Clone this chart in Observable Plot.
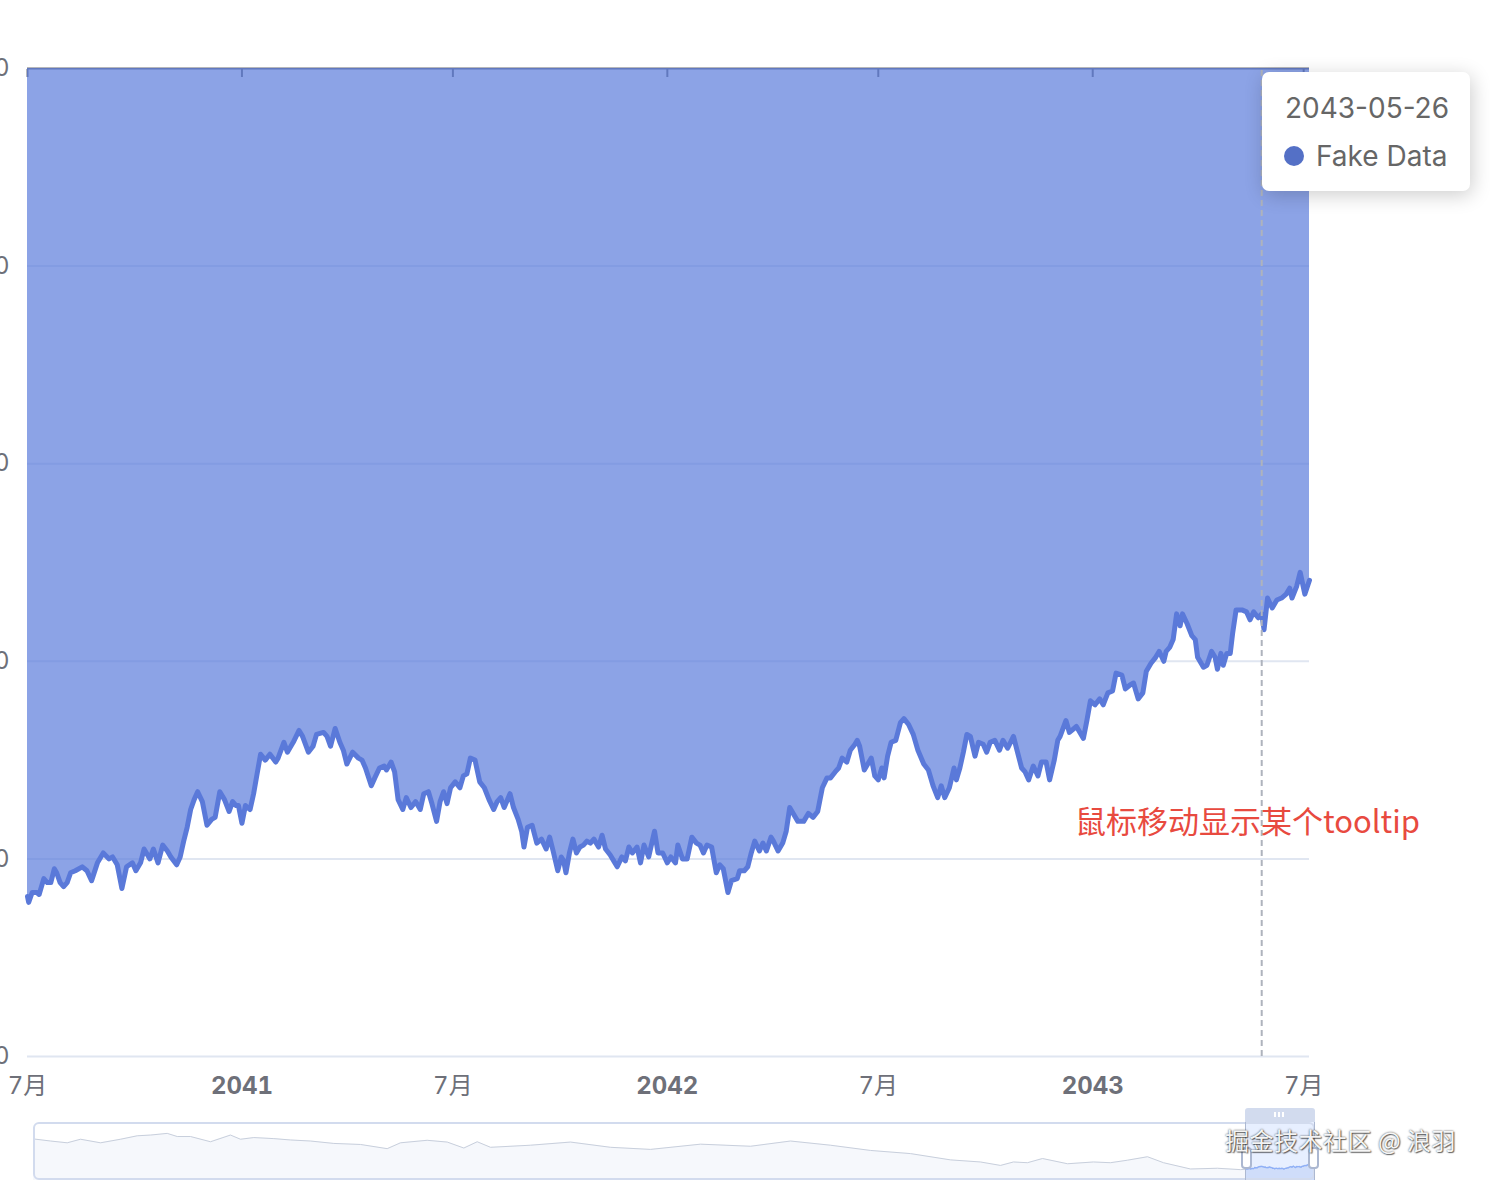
<!DOCTYPE html>
<html><head><meta charset="utf-8">
<script src="https://cdn.jsdelivr.net/npm/d3@7"></script>
<script src="https://cdn.jsdelivr.net/npm/@observablehq/plot@0.6"></script>
<style>
html,body{margin:0;padding:0;background:#fff;}
#wrap{position:relative;width:1490px;height:1186px;overflow:hidden;font-family:Inter,"Noto Sans CJK SC",sans-serif;}
#main,#mini{position:absolute;left:0;}
#main{top:0}
#mini{top:1100px}
.abs{position:absolute;box-sizing:border-box;pointer-events:none;}
#sliderBorder{left:33px;top:1122px;width:1282px;height:58px;border:2px solid #d2dbee;border-radius:6px;}
#moveBar{left:1245px;top:1108px;width:70px;height:14px;background:#d2dbee;border-radius:3px 3px 0 0;}
.grip{top:1112px;width:2px;height:5px;background:#fff;}
.hline{top:1122px;width:1px;height:58px;background:#ACB8D1;}
.handle{top:1147px;width:11px;height:22px;background:#fff;border:2px solid #ACB8D1;border-radius:4px;}
#tooltip{left:1262px;top:72px;width:208px;height:119px;background:#fff;border-radius:7px;box-shadow:2px 4px 20px rgba(0,0,0,0.2);}
#tipDate{left:23px;top:22px;font-size:28px;line-height:1;color:#666;white-space:nowrap;}
#tipDot{left:22px;top:74px;width:20px;height:20px;border-radius:50%;background:#5470c6;}
#tipName{left:54px;top:70px;font-size:28px;line-height:1;color:#666;white-space:nowrap;}
#note{left:1075px;top:804px;font-family:"Noto Sans CJK SC",sans-serif;font-size:31px;line-height:1;color:#e84a3f;white-space:nowrap;}
#wm{left:1225px;top:1128px;font-family:"Noto Sans CJK SC",sans-serif;font-size:24px;letter-spacing:0.5px;line-height:1;color:rgba(255,255,255,0.95);white-space:nowrap;text-shadow:0 0 2px rgba(0,0,0,0.75),1px 1px 1px rgba(0,0,0,0.5);}
</style></head><body>
<div id="wrap">
  <div id="main"></div>
  <div id="mini"></div>
  <div id="sliderBorder" class="abs"></div>
  <div id="moveBar" class="abs"></div>
  <div class="abs grip" style="left:1274px"></div>
  <div class="abs grip" style="left:1278px"></div>
  <div class="abs grip" style="left:1282px"></div>
  <div class="abs hline" style="left:1245px"></div>
  <div class="abs hline" style="left:1314px"></div>
  <div class="abs handle" style="left:1241px"></div>
  <div class="abs handle" style="left:1308px"></div>
  <div id="tooltip" class="abs">
    <div id="tipDate" class="abs"></div>
    <div id="tipDot" class="abs"></div>
    <div id="tipName" class="abs"></div>
  </div>
  <div id="note" class="abs">鼠标移动显示某个tooltip</div>
  <div id="wm" class="abs">掘金技术社区 @ 浪羽</div>
</div>
<script>
// ---- data ----
const startDate = "2040-07-01";
const endOffset = 1100;
const dayOffsets = [0,1,4,8,10,14,17,20,23,25,28,31,34,37,41,47,51,55,60,65,70,73,77,81,85,90,93,97,100,105,108,112,116,120,123,128,131,134,137,140,143,146,150,154,158,161,165,169,173,176,179,181,184,187,191,194,197,200,204,208,213,215,
220,223,228,233,236,241,245,248,254,257,260,264,268,271,274,279,284,287,290,295,298,302,306,308,312,315,318,322,325,329,333,337,340,344,347,351,354,357,360,363,367,371,374,377,380,384,388,392,396,400,403,406,409,414,417,421,424,426,429,433,437,441,445,448,
451,455,458,460,462,465,468,471,474,477,480,483,486,490,493,496,500,503,506,510,513,516,519,523,526,529,533,538,541,545,549,552,556,558,562,566,570,574,577,580,583,587,591,594,597,601,604,609,611,615,618,621,624,628,631,634,638,640,644,648,651,654,658,661,666,670,
674,678,682,686,689,693,696,699,703,706,710,712,714,718,721,724,727,730,733,735,738,741,745,749,752,756,760,764,769,773,777,781,784,787,791,795,797,800,803,806,809,813,816,820,823,826,830,834,837,841,846,849,853,856,859,863,867,870,874,877,881,884,
886,891,894,900,906,909,912,916,920,923,927,931,934,939,942,946,949,953,957,960,964,968,971,975,977,980,983,986,989,991,995,999,1002,1004,1009,1012,1016,1019,1021,1024,1026,1029,1032,1034,1037,1042,1046,1049,1052,1056,1059,1061,1064,1068,1072,1076,1080,1083,1085,1089,1092,1096,1100];
const values = [81,78,83,83,82,90,88,88,95,93,88,86,88,93,94,96,94,89,98,103,100,101,97,85,96,98,94,98,105,100,105,98,107,104,101,97,101,109,116,125,130,134,129,117,120,121,134,130,124,129,127,127,118,127,125,133,143,153,150,153,149,151,
159,154,159,165,162,154,157,163,164,162,157,166,159,155,148,154,151,150,146,137,141,146,147,145,149,144,130,125,131,126,129,125,133,134,128,119,129,134,128,136,139,136,142,143,151,150,139,136,130,125,129,131,126,133,126,120,114,106,116,117,108,110,105,111,
104,94,101,99,93,103,110,103,106,107,109,108,110,106,112,105,102,99,96,101,99,106,103,106,98,107,101,114,103,103,98,101,98,107,100,100,111,108,107,103,107,106,93,97,95,83,89,90,94,94,96,103,109,104,108,104,111,109,104,108,114,126,122,119,119,123,
121,124,136,141,141,144,146,151,149,155,158,160,157,145,148,151,142,140,146,141,152,159,160,169,171,168,163,155,148,145,137,131,137,131,136,146,140,146,154,163,162,152,159,158,154,159,160,155,160,156,162,155,146,144,140,147,142,149,149,140,150,160,
162,170,164,167,161,170,180,178,181,178,184,185,194,193,186,188,189,181,184,195,199,202,205,200,205,207,211,224,218,224,219,213,211,202,197,198,205,202,196,204,198,204,204,214,226,226,225,221,225,222,224,216,232,227,231,232,234,237,232,238,245,234,241];
const overviewOffsets = [-19041,-18773,-18511,-18302,-17988,-17674,-17411,-17202,-16940,-16783,-16574,-16260,-15946,-15789,-15580,-15265,-15003,-14689,-14323,-13903,-13484,-13275,-12856,-12541,-12280,-12070,-11861,-11233,-10604,-9976,-9347,-8562,-7776,-7148,-6520,-5891,-5263,-4634,-4163,-3849,-3645,-3425,-3189,-2796,-2388,-2121,-1854,-1540,-1288,-864,-440,-79];
const overviewValues = [950,890,839,941,839,941,1040,1061,1109,1019,1019,869,1061,941,989,959,920,890,821,791,671,839,911,860,689,869,710,770,860,710,650,800,740,890,770,620,530,350,290,191,290,269,389,239,290,269,341,440,269,89,110,71];
const xTickDates = ["2040-07-01","2041-01-01","2041-07-01","2042-01-01","2042-07-01","2043-01-01","2043-07-01"];
const yTicks = [0,100,200,300,400,500];
const seriesName = "Fake Data";
const tooltipDate = "2043-05-26";

// ---- build ----
const FONT = 'Inter, "Noto Sans CJK SC", sans-serif';
const parse = s => new Date(s + "T00:00:00Z");
const start = parse(startDate);
const toDate = d => d3.utcDay.offset(start, d);
const data = dayOffsets.map((d, i) => ({date: toDate(d), value: values[i]}));
const overview = overviewOffsets.map((d, i) => ({date: toDate(d), value: overviewValues[i]}));
const full = overview.concat(data);
const yMax = yTicks[yTicks.length - 1];
const tickDates = xTickDates.map(parse);
const yearTicks = tickDates.filter(d => d.getUTCMonth() === 0);
const monthTicks = tickDates.filter(d => d.getUTCMonth() !== 0);
const tipDate = parse(tooltipDate);

const main = Plot.plot({
  width: 1490, height: 1100,
  marginTop: 68, marginBottom: 44, marginLeft: 27, marginRight: 181,
  style: {fontFamily: FONT, fontSize: "24px", background: "transparent", color: "#6E7079"},
  x: {type: "utc", domain: [start, toDate(endOffset)]},
  y: {domain: [0, yMax]},
  marks: [
    Plot.ruleY(yTicks.slice(0, -1), {stroke: "#E0E6F1", strokeWidth: 2}),
    Plot.ruleY([yMax], {stroke: "#6E7079", strokeWidth: 2}),
    Plot.axisX(tickDates, {anchor: "top", tickSize: 8, dy: 8, tickFormat: () => "", strokeWidth: 2, label: null}),
    Plot.areaY(data, {x: "date", y1: "value", y2: yMax, fill: "#5b7cdc", fillOpacity: 0.7}),
    Plot.lineY(data, {x: "date", y: "value", stroke: "#5a79d9", strokeWidth: 5, strokeLinejoin: "round"}),
    Plot.ruleX([tipDate], {y1: 0, y2: yMax, stroke: "#AEB3BD", strokeWidth: 2, strokeDasharray: "6,4"}),
    Plot.axisY(yTicks, {anchor: "left", tickSize: 0, tickPadding: 18, fontSize: 24, label: null}),
    Plot.axisX(yearTicks, {anchor: "bottom", tickSize: 0, tickPadding: 20, fontSize: 24, fontWeight: "bold",
      tickFormat: d => String(d.getUTCFullYear()), label: null}),
    Plot.axisX(monthTicks, {anchor: "bottom", tickSize: 0, tickPadding: 20, fontSize: 24,
      tickFormat: d => (d.getUTCMonth() + 1) + "月", label: null})
  ]
});
document.getElementById("main").appendChild(main);

const [lo, hi] = d3.extent(full, d => d.value);
const pad = (hi - lo) * 0.3;
const yLo = lo - pad, yHi = hi + pad;
const mini = Plot.plot({
  width: 1490, height: 86,
  marginTop: 22, marginBottom: 6, marginLeft: 33, marginRight: 175,
  style: {background: "transparent"},
  x: {type: "utc", domain: [overview[0].date, toDate(endOffset)], axis: null},
  y: {domain: [yLo, yHi], axis: null},
  marks: [
    Plot.areaY(full, {x: "date", y1: yLo, y2: "value", fill: "#d2dbee", fillOpacity: 0.2}),
    Plot.lineY(full, {x: "date", y: "value", stroke: "#c8cfdc", strokeWidth: 1}),
    Plot.rect([{x1: start, x2: toDate(endOffset)}], {x1: "x1", x2: "x2", fill: "#87afff", fillOpacity: 0.2}),
    Plot.areaY(data, {x: "date", y1: yLo, y2: "value", fill: "#8fb0f7", fillOpacity: 0.2}),
    Plot.lineY(data, {x: "date", y: "value", stroke: "#8fb0f7", strokeWidth: 1.2})
  ]
});
document.getElementById("mini").appendChild(mini);

document.getElementById("tipDate").textContent = d3.utcFormat("%Y-%m-%d")(tipDate);
document.getElementById("tipName").textContent = seriesName;
</script>
</body></html>
